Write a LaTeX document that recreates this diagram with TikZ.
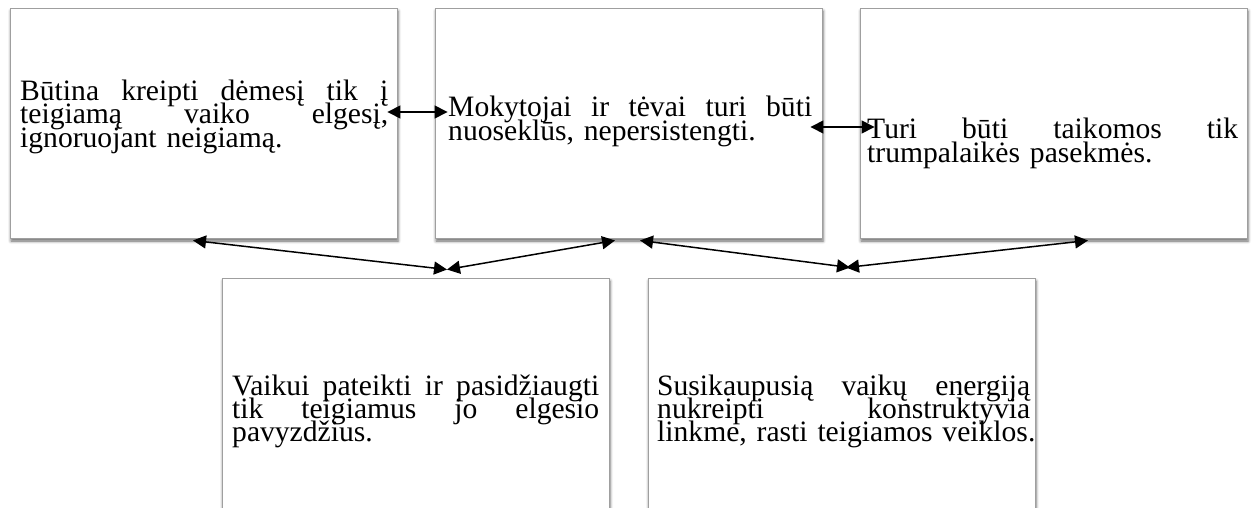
\documentclass[tikz,border=0pt]{standalone}
\usepackage{fontspec}
\setmainfont{Liberation Serif}
\usepackage{tikz}
\usetikzlibrary{arrows.meta,shadows.blur}
\newcommand{\cardfont}{\fontsize{29.6}{23.3}\selectfont\lineskiplimit=-100pt\hyphenpenalty=10000\relax}
\newcommand{\fullline}[1]{\hbox to \linewidth{#1}\break}

\begin{document}
\begin{tikzpicture}[x=1pt, y=-1pt,
    panel/.style={draw=gray!75, line width=0.9pt, fill=white, inner sep=0pt,
        minimum width=387pt, minimum height=#1,
        blur shadow={shadow xshift=1pt, shadow yshift=-3pt, shadow blur radius=3pt, shadow opacity=60}},
    txt/.style={anchor=base west, inner sep=0pt, text width=#1, font=\cardfont},
    link/.style={{Triangle[length=13pt,width=13pt]}-{Triangle[length=13pt,width=13pt]}, line width=1.5pt}]
    \useasboundingbox (0,0) rectangle (1254,508);
    \clip (0,0) rectangle (1254,508);
    % boxes
    \foreach \n/\x in {1/203.5, 2/628.5, 3/1053.5}
        \node[panel=230pt] (b\n) at (\x,123) {};
    \foreach \n/\x in {4/415.5, 5/841.5}
        \node[panel=252pt] (b\n) at (\x,404) {};
    % texts
    \node[txt=368pt] (t1) at (20,100.5) {\fullline{Būtina\hfill kreipti\hfill dėmesį\hfill tik\hfill į}\fullline{teigiamą\hfill vaiko\hfill elgesį,}ignoruojant neigiamą.};
    \node[txt=364pt] (t2) at (448,117) {\fullline{Mokytojai\hfill ir\hfill tėvai\hfill turi\hfill būti}nuoseklūs, nepersistengti.};
    \node[txt=371pt] (t3) at (867,139) {\fullline{Turi\hfill būti\hfill taikomos\hfill tik}trumpalaikės pasekmės.};
    \node[txt=367pt] (t4) at (232,395) {\fullline{Vaikui\hfill pateikti\hfill ir\hfill pasidžiaugti}\fullline{tik\hfill teigiamus\hfill jo\hfill elgesio}pavyzdžius.};
    \node[txt=373pt] (t5) at (657,395) {\fullline{Susikaupusią\hfill vaikų\hfill energiją}\fullline{nukreipti\hfill konstruktyvia}\mbox{linkme, rasti teigiamos veiklos.}};
    % arrows
    \draw[link] ([xshift=-10pt,yshift=11pt]b1.east) -- ([xshift=13pt,yshift=11pt]b2.west);
    \draw[link] ([xshift=-12pt,yshift=-4pt]b2.east) -- ([xshift=15pt,yshift=-4pt]b3.west);
    \draw[link] ([xshift=-10.5pt,yshift=-2pt]b1.south) -- ([xshift=31.5pt,yshift=8pt]b4.north);
    \draw[link] ([xshift=-13.5pt,yshift=-2pt]b2.south) -- ([xshift=31.5pt,yshift=8pt]b4.north);
    \draw[link] ([xshift=11.5pt,yshift=-2pt]b2.south) -- ([xshift=8.5pt,yshift=10pt]b5.north);
    \draw[link] ([xshift=34.5pt,yshift=-2pt]b3.south) -- ([xshift=4.5pt,yshift=10pt]b5.north);
\end{tikzpicture}
\end{document}
